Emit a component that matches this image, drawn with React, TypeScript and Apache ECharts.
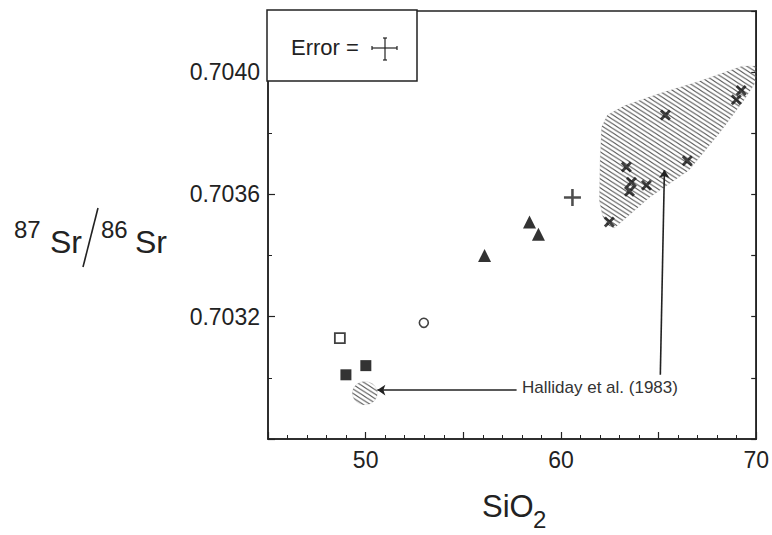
import { useEffect, useRef } from "react";
import * as echarts from "echarts";

// ---- data (SiO2 wt%, 87Sr/86Sr) ----
const crossSamples: [number, number][] = [
  [69.23, 0.70394],
  [68.98, 0.70391],
  [65.35, 0.70386],
  [63.35, 0.70369],
  [66.47, 0.70371],
  [63.61, 0.70364],
  [63.51, 0.70361],
  [64.38, 0.70363],
  [62.48, 0.70351],
];
const plusSamples: [number, number][] = [[60.59, 0.70359]];
const triangleSamples: [number, number][] = [
  [56.09, 0.7034],
  [58.39, 0.70351],
  [58.85, 0.70347],
];
const filledSquareSamples: [number, number][] = [
  [48.99, 0.70301],
  [50.01, 0.70304],
];
const openSquareSamples: [number, number][] = [[48.68, 0.70313]];
const openCircleSamples: [number, number][] = [[52.98, 0.70318]];
// Halliday et al. (1983) field: centre x, centre y, half-width, half-height
const hallidayField: [number, number, number, number][] = [[49.96, 0.70295, 0.64, 0.000038]];
// hatched field outline
const hatchedField: [number, number][] = [
  [70.0, 0.70402],
  [70.0, 0.70397],
  [69.39, 0.70391],
  [68.11, 0.7038],
  [66.57, 0.70368],
  [64.53, 0.70359],
  [62.74, 0.70349],
  [62.38, 0.7035],
  [62.13, 0.70353],
  [61.97, 0.70358],
  [62.0, 0.7037],
  [62.08, 0.70382],
  [62.38, 0.70386],
  [63.25, 0.70389],
  [65.04, 0.70393],
  [67.09, 0.70397],
  [69.3, 0.70402],
];
const arrowLines: [number, number][][] = [
  [[57.73, 0.70296], [50.6, 0.70296]],
  [[65.09, 0.70301], [65.3, 0.70368]],
];
const xTickLabels = [50, 60, 70];
const yTickLabels = ["0.7032", "0.7036", "0.7040"];
const annotationText = "Halliday et al. (1983)";

const FONT = "'Liberation Sans', Arial, Helvetica, sans-serif";
const INK = "#222";

const hatchSvg =
  "<svg xmlns='http://www.w3.org/2000/svg' width='7' height='4.5'>" +
  "<path d='M-7,-4.5 L14,9 M-7,0 L14,13.5 M-7,-9 L14,4.5' stroke='#5a5a5a' stroke-width='1.05' fill='none'/></svg>";
const hatchPattern: any = {
  image: "data:image/svg+xml;charset=utf-8," + encodeURIComponent(hatchSvg),
  repeat: "repeat",
  imageWidth: 7,
  imageHeight: 4.5,
};

const X_PATH =
  "path://M2.2,0 L6,3.8 L9.8,0 L12,2.2 L8.2,6 L12,9.8 L9.8,12 L6,8.2 L2.2,12 L0,9.8 L3.8,6 L0,2.2 Z";
const PLUS_PATH = "path://M6.8,0 H9.2 V6.8 H16 V9.2 H9.2 V16 H6.8 V9.2 H0 V6.8 H6.8 Z";

export default function App() {
  const ref = useRef<HTMLDivElement>(null);
  useEffect(() => {
    if (!ref.current) return;
    const chart = echarts.init(ref.current, null, { renderer: "svg" });
    const option: any = {
      animation: false,
      backgroundColor: "#fff",
      grid: {
        left: 268,
        right: 15,
        top: 11,
        bottom: 96,
        show: true,
        borderColor: INK,
        borderWidth: 1.5,
      },
      xAxis: {
        type: "value",
        min: 45,
        max: 70,
        interval: 5,
        axisLine: { show: true, onZero: false, lineStyle: { color: INK, width: 1.5 } },
        axisTick: { show: true, inside: true, length: 7, lineStyle: { color: INK, width: 1.2 } },
        minorTick: { show: true, splitNumber: 5, length: 4, lineStyle: { color: INK, width: 1 } },
        splitLine: { show: false },
        axisLabel: {
          margin: 9,
          fontSize: 23,
          color: INK,
          fontFamily: FONT,
          formatter: (v: number) => (xTickLabels.includes(Math.round(v)) ? String(Math.round(v)) : ""),
        },
      },
      yAxis: [
        {
          type: "value",
          min: 0.7028,
          max: 0.7042,
          interval: 0.0004,
          axisLine: { show: true, onZero: false, lineStyle: { color: INK, width: 1.5 } },
          axisTick: { show: true, inside: true, length: 7, lineStyle: { color: INK, width: 1.2 } },
          minorTick: { show: true, splitNumber: 2, length: 4, lineStyle: { color: INK, width: 1 } },
          splitLine: { show: false },
          axisLabel: {
            margin: 8,
            fontSize: 23,
            color: INK,
            fontFamily: FONT,
            formatter: (v: number) => {
              const s = v.toFixed(4);
              return yTickLabels.includes(s) ? s : "";
            },
          },
        },
        {
          type: "value",
          position: "right",
          min: 0.7028,
          max: 0.7042,
          interval: 0.0002,
          axisLine: { show: true, onZero: false, lineStyle: { color: INK, width: 1.5 } },
          axisTick: { show: true, inside: true, length: 5, lineStyle: { color: INK, width: 1.2 } },
          splitLine: { show: false },
          axisLabel: { show: false },
        },
      ],
      series: [
        {
          type: "custom",
          coordinateSystem: "cartesian2d",
          silent: true,
          z: 1,
          data: [[66, 0.7038]],
          renderItem: (_p: any, api: any) => ({
            type: "polygon",
            shape: { points: hatchedField.map((pt) => api.coord(pt)) },
            style: { fill: hatchPattern, stroke: "rgba(0,0,0,0.1)", lineWidth: 0.6 },
          }),
        },
        {
          type: "custom",
          coordinateSystem: "cartesian2d",
          silent: true,
          z: 1,
          data: hallidayField,
          renderItem: (_p: any, api: any) => {
            const c = api.coord([api.value(0), api.value(1)]);
            const s = api.size([api.value(2), api.value(3)]);
            return {
              type: "ellipse",
              shape: { cx: c[0], cy: c[1], rx: s[0], ry: s[1] },
              style: { fill: hatchPattern, stroke: "rgba(0,0,0,0.12)", lineWidth: 0.6 },
            };
          },
        },
        {
          type: "lines",
          coordinateSystem: "cartesian2d",
          silent: true,
          z: 5,
          symbol: ["none", "arrow"],
          symbolSize: 8,
          lineStyle: { color: "#222", width: 1.6, opacity: 1, curveness: 0 },
          data: arrowLines.map((c) => ({ coords: c })),
        },
        {
          type: "scatter",
          symbol: X_PATH,
          symbolSize: 11,
          itemStyle: { color: "#111" },
          data: crossSamples,
          z: 6,
        },
        {
          type: "scatter",
          symbol: PLUS_PATH,
          symbolSize: 17,
          itemStyle: { color: "#222" },
          data: plusSamples,
          z: 6,
        },
        {
          type: "scatter",
          symbol: "triangle",
          symbolSize: 13,
          itemStyle: { color: "#000" },
          data: triangleSamples,
          z: 6,
        },
        {
          type: "scatter",
          symbol: "rect",
          symbolSize: 11,
          itemStyle: { color: "#000" },
          data: filledSquareSamples,
          z: 6,
        },
        {
          type: "scatter",
          symbol: "rect",
          symbolSize: 10,
          itemStyle: { color: "#fff", borderColor: "#111", borderWidth: 1.8 },
          data: openSquareSamples,
          z: 6,
        },
        {
          type: "scatter",
          symbol: "circle",
          symbolSize: 9,
          itemStyle: { color: "#fff", borderColor: "#111", borderWidth: 1.6 },
          data: openCircleSamples,
          z: 6,
        },
      ],
      graphic: [
        // error box
        {
          type: "rect",
          z: 100,
          shape: { x: 267, y: 10, width: 150, height: 71 },
          style: { fill: "#fff", stroke: INK, lineWidth: 1.5 },
        },
        {
          type: "text",
          z: 101,
          x: 291,
          y: 47,
          style: { text: "Error =", font: `22px ${FONT}`, fill: INK, verticalAlign: "middle" },
        },
        { type: "line", z: 101, shape: { x1: 372, y1: 48, x2: 397, y2: 48 }, style: { stroke: INK, lineWidth: 1.2 } },
        { type: "line", z: 101, shape: { x1: 385, y1: 38, x2: 385, y2: 60 }, style: { stroke: INK, lineWidth: 1.2 } },
        { type: "line", z: 101, shape: { x1: 372, y1: 46, x2: 372, y2: 50 }, style: { stroke: INK, lineWidth: 1.2 } },
        { type: "line", z: 101, shape: { x1: 397, y1: 46, x2: 397, y2: 50 }, style: { stroke: INK, lineWidth: 1.2 } },
        { type: "line", z: 101, shape: { x1: 383, y1: 38, x2: 387, y2: 38 }, style: { stroke: INK, lineWidth: 1.2 } },
        { type: "line", z: 101, shape: { x1: 383, y1: 60, x2: 387, y2: 60 }, style: { stroke: INK, lineWidth: 1.2 } },
        // annotation
        {
          type: "text",
          z: 101,
          x: 522,
          y: 387,
          style: { text: annotationText, font: `17px ${FONT}`, fill: "#333", verticalAlign: "middle" },
        },
        // y-axis title 87Sr/86Sr
        { type: "text", x: 14, y: 229, style: { text: "87", font: `24px ${FONT}`, fill: INK, verticalAlign: "middle" } },
        { type: "text", x: 50, y: 242, style: { text: "Sr", font: `32px ${FONT}`, fill: INK, verticalAlign: "middle" } },
        { type: "line", shape: { x1: 98, y1: 208, x2: 83, y2: 267 }, style: { stroke: INK, lineWidth: 1.6 } },
        { type: "text", x: 101, y: 229, style: { text: "86", font: `24px ${FONT}`, fill: INK, verticalAlign: "middle" } },
        { type: "text", x: 135, y: 242, style: { text: "Sr", font: `32px ${FONT}`, fill: INK, verticalAlign: "middle" } },
        // x-axis title SiO2
        { type: "text", x: 482, y: 506, style: { text: "SiO", font: `31px ${FONT}`, fill: INK, verticalAlign: "middle" } },
        { type: "text", x: 533, y: 519, style: { text: "2", font: `24px ${FONT}`, fill: INK, verticalAlign: "middle" } },
      ],
    };
    chart.setOption(option);
    return () => chart.dispose();
  }, []);
  return (
    <div
      ref={ref}
      style={{ position: "absolute", left: 0, top: 0, width: 772, height: 535 }}
    />
  );
}
